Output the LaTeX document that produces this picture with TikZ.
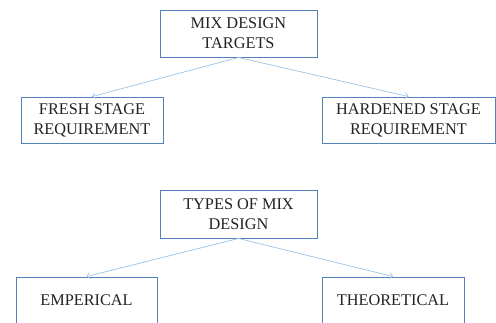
\documentclass[tikz,border=0pt]{standalone}
\usepackage{fontspec}
\setmainfont{Liberation Serif}
\usetikzlibrary{arrows.meta}
\definecolor{boxline}{RGB}{84,130,186}
\definecolor{conn}{RGB}{157,195,230}
\definecolor{txt}{RGB}{35,35,35}
\tikzset{
  box/.style={draw=boxline, line width=0.9pt, rectangle, align=center, inner sep=0pt,
    text=txt, font=\fontsize{16.3}{20}\selectfont},
  link/.style={draw=conn, line width=0.7pt, -{Straight Barb[length=3pt,width=6pt]}}
}
\begin{document}
\begin{tikzpicture}[x=1pt,y=-1pt]
\useasboundingbox (0,0) rectangle (496,322);
\node[box, minimum width=157pt, minimum height=47pt] (mdt) at (238.5,33.5) {MIX DESIGN\\TARGETS};
\node[box, minimum width=142pt, minimum height=46pt] (fresh) at (92,120) {FRESH STAGE\\REQUIREMENT};
\node[box, minimum width=173pt, minimum height=46pt] (hard) at (408.5,120) {HARDENED STAGE\\REQUIREMENT};
\node[box, minimum width=157pt, minimum height=48pt] (types) at (238.5,214) {TYPES OF MIX\\DESIGN};
\node[box, minimum width=141pt, minimum height=46pt] (emp) at (86.5,300) {EMPERICAL};
\node[box, minimum width=142pt, minimum height=46pt] (theo) at (393,300) {THEORETICAL};
\draw[link] (mdt.south) -- (fresh.north);
\draw[link] (mdt.south) -- (hard.north);
\draw[link] (types.south) -- (emp.north);
\draw[link] (types.south) -- (theo.north);
\end{tikzpicture}
\end{document}
